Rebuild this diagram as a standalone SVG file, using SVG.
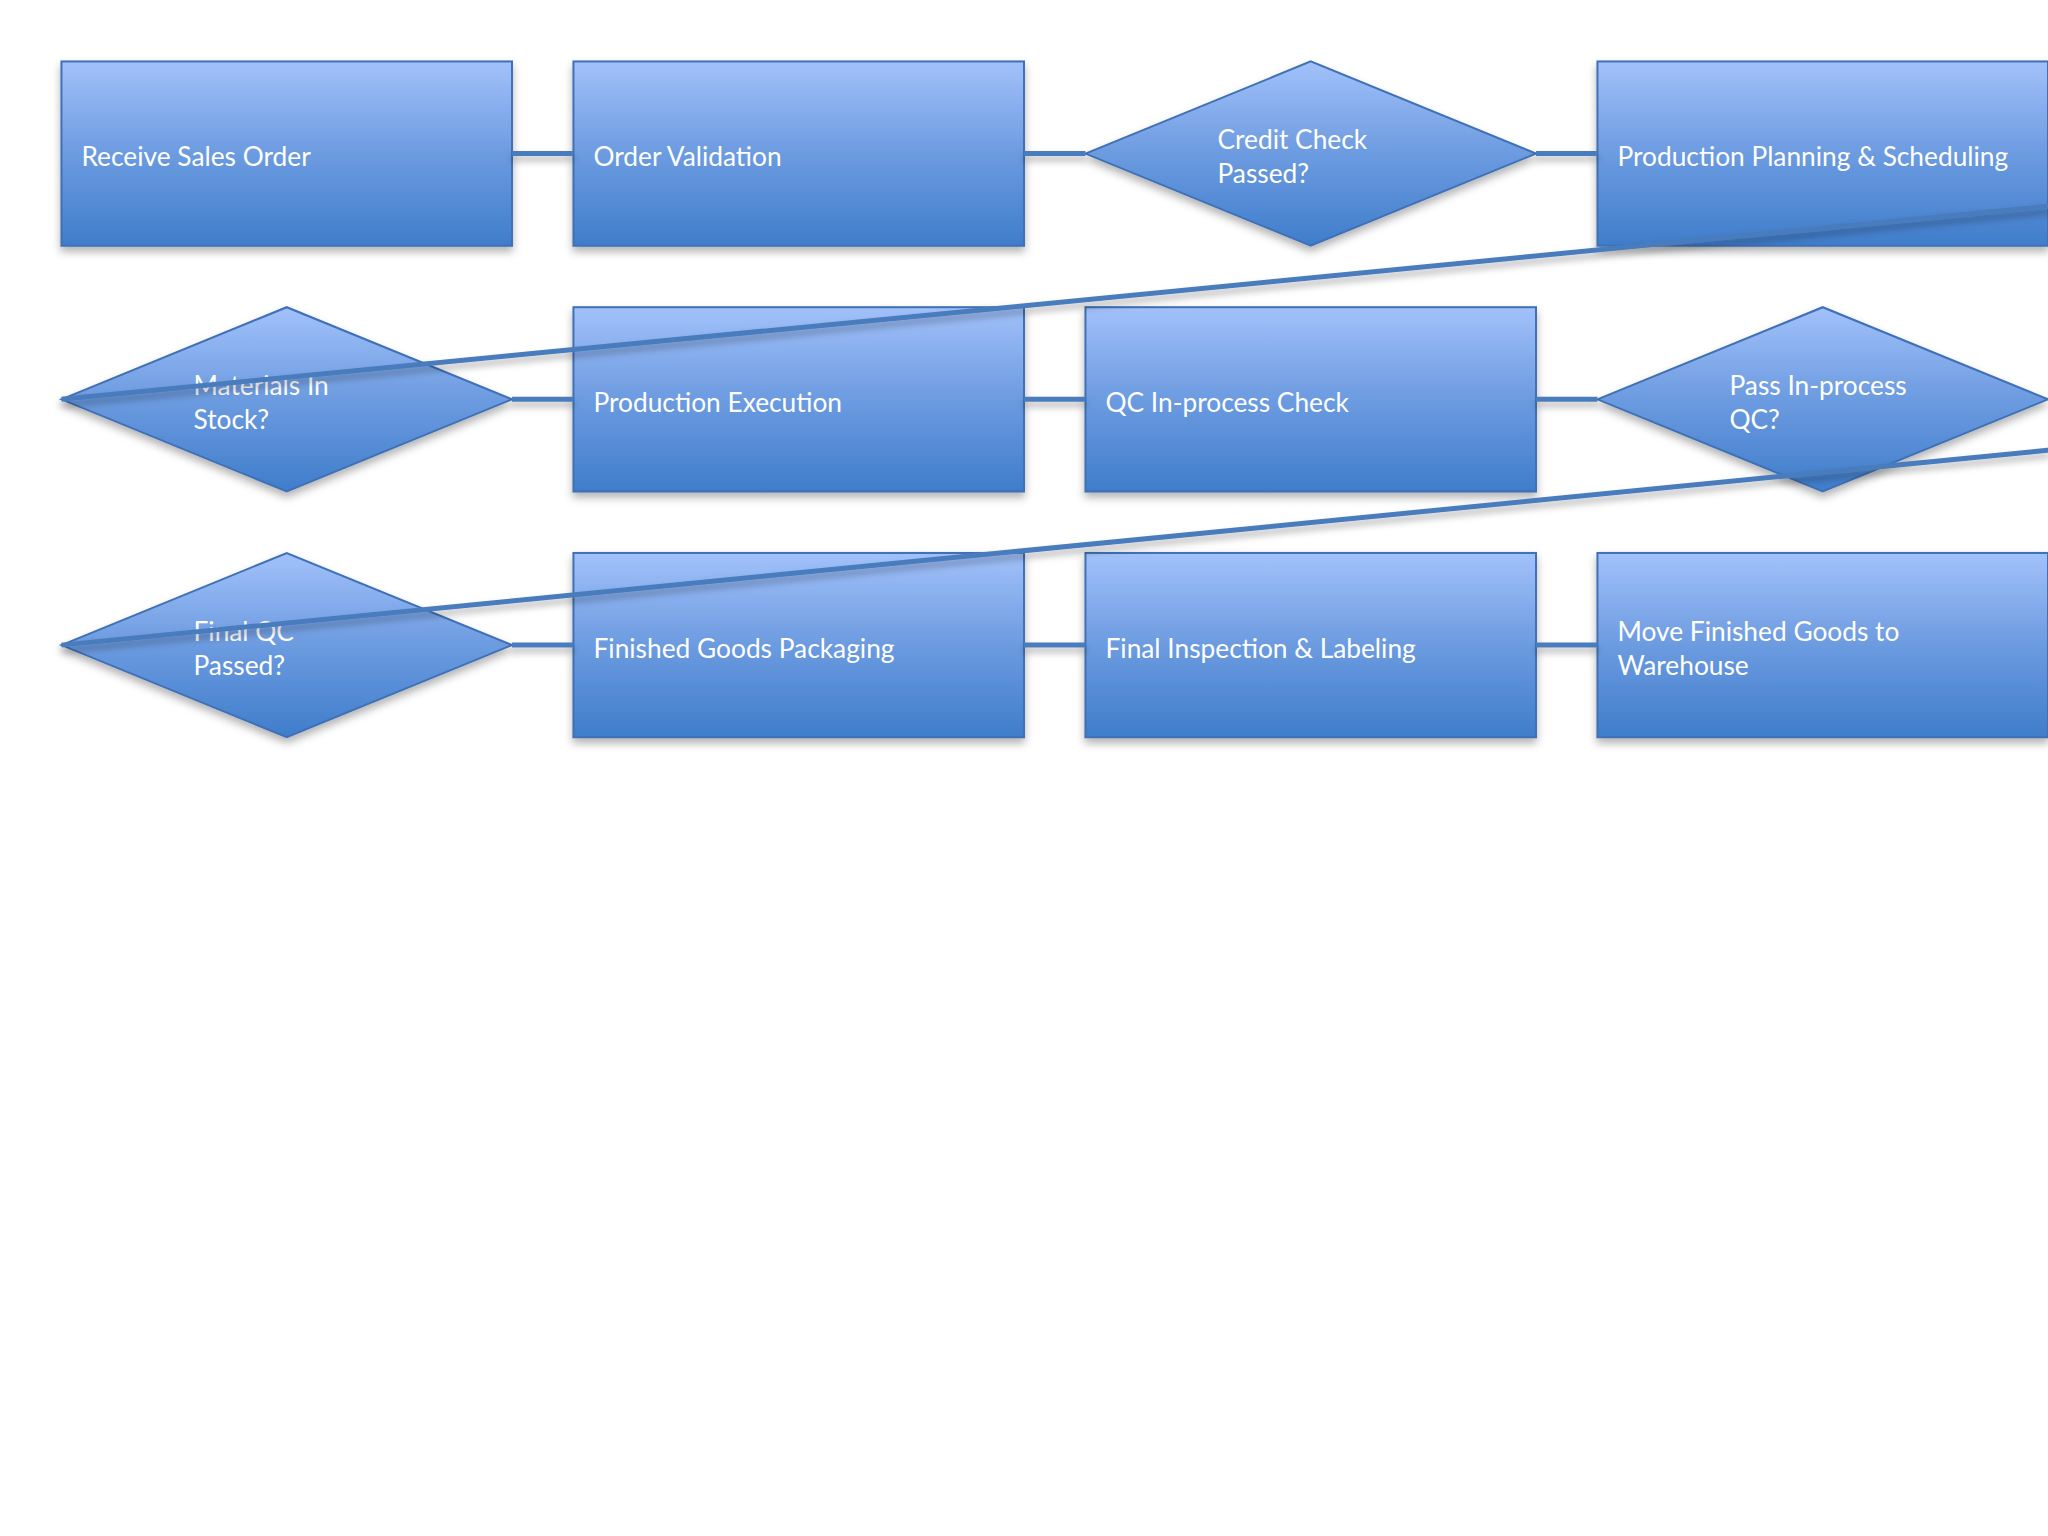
<svg xmlns="http://www.w3.org/2000/svg" width="2048" height="1536" viewBox="0 0 2048 1536">
  <defs>
    <linearGradient id="g" x1="0" y1="0" x2="0" y2="1">
      <stop offset="0" stop-color="#a2c1fa"/>
      <stop offset="0.5" stop-color="#6c9be0"/>
      <stop offset="1" stop-color="#3f7dcb"/>
    </linearGradient>
    <filter id="sh" x="-10%" y="-20%" width="120%" height="150%">
      <feDropShadow dx="0" dy="5" stdDeviation="4" flood-color="#000" flood-opacity="0.3"/>
    </filter>
    <filter id="lsh" x="-5%" y="-50%" width="110%" height="200%">
      <feDropShadow dx="0" dy="5" stdDeviation="3.5" flood-color="#000" flood-opacity="0.3"/>
    </filter>
  </defs>
  <style>
    .shape { fill: url(#g); stroke: #3f70b5; stroke-width: 2; filter: url(#sh); }
    .lbl { fill: #ffffff; font-family: Lato, "Liberation Sans", sans-serif; font-size: 26.3px; }
    .conn { stroke: #4a7cbd; stroke-width: 5; fill: none; }
  </style>
  <rect width="2048" height="1536" fill="#ffffff"/>

  <g id="n1"><rect class="shape" x="61.44" y="61.44" width="450.56" height="184.32"/><text class="lbl" x="81.5" y="166">Receive Sales Order</text></g>
  <g id="n2"><rect class="shape" x="573.44" y="61.44" width="450.56" height="184.32"/><text class="lbl" x="593.5" y="166">Order Validation</text></g>
  <g id="n3"><polygon class="shape" points="1085.44,153.6 1310.72,61.44 1536,153.6 1310.72,245.76"/><text class="lbl" x="1217.5" y="149">Credit Check</text><text class="lbl" x="1217.5" y="183">Passed?</text></g>
  <g id="n4"><rect class="shape" x="1597.44" y="61.44" width="450.56" height="184.32"/><text class="lbl" x="1617.5" y="166">Production Planning &amp; Scheduling</text></g>

  <g id="n5"><polygon class="shape" points="61.44,399.36 286.72,307.2 512,399.36 286.72,491.52"/><text class="lbl" x="193.5" y="395">Materials In</text><text class="lbl" x="193.5" y="429">Stock?</text></g>
  <g id="n6"><rect class="shape" x="573.44" y="307.2" width="450.56" height="184.32"/><text class="lbl" x="593.5" y="412">Production Execution</text></g>
  <g id="n7"><rect class="shape" x="1085.44" y="307.2" width="450.56" height="184.32"/><text class="lbl" x="1105.5" y="412">QC In-process Check</text></g>
  <g id="n8"><polygon class="shape" points="1597.44,399.36 1822.72,307.2 2048,399.36 1822.72,491.52"/><text class="lbl" x="1729.5" y="395">Pass In-process</text><text class="lbl" x="1729.5" y="429">QC?</text></g>

  <g id="n9"><polygon class="shape" points="61.44,645.12 286.72,552.96 512,645.12 286.72,737.28"/><text class="lbl" x="193.5" y="641">Final QC</text><text class="lbl" x="193.5" y="675">Passed?</text></g>
  <g id="n10"><rect class="shape" x="573.44" y="552.96" width="450.56" height="184.32"/><text class="lbl" x="593.5" y="658">Finished Goods Packaging</text></g>
  <g id="n11"><rect class="shape" x="1085.44" y="552.96" width="450.56" height="184.32"/><text class="lbl" x="1105.5" y="658">Final Inspection &amp; Labeling</text></g>
  <g id="n12"><rect class="shape" x="1597.44" y="552.96" width="450.56" height="184.32"/><text class="lbl" x="1617.5" y="641">Move Finished Goods to</text><text class="lbl" x="1617.5" y="675">Warehouse</text></g>

  <g id="connectors" class="conn" filter="url(#lsh)">
    <line x1="512" y1="153.6" x2="573.44" y2="153.6"/>
    <line x1="1024" y1="153.6" x2="1085.44" y2="153.6"/>
    <line x1="1536" y1="153.6" x2="1597.44" y2="153.6"/>
    <line x1="2050" y1="206" x2="61.44" y2="399.36"/>
    <line x1="512" y1="399.36" x2="573.44" y2="399.36"/>
    <line x1="1024" y1="399.36" x2="1085.44" y2="399.36"/>
    <line x1="1536" y1="399.36" x2="1597.44" y2="399.36"/>
    <line x1="2050" y1="450" x2="61.44" y2="645.12"/>
    <line x1="512" y1="645.12" x2="573.44" y2="645.12"/>
    <line x1="1024" y1="645.12" x2="1085.44" y2="645.12"/>
    <line x1="1536" y1="645.12" x2="1597.44" y2="645.12"/>
  </g>
</svg>
